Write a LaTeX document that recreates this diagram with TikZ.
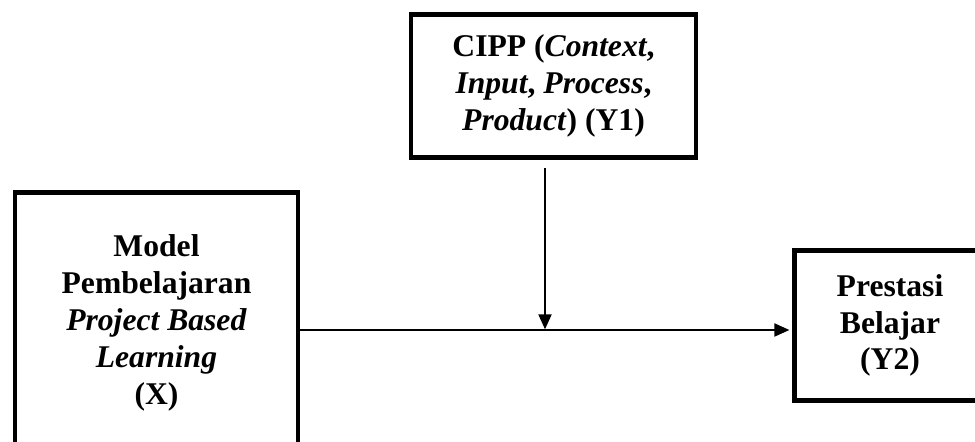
\documentclass[tikz,border=0pt]{standalone}
\usepackage{fontspec}
\setmainfont{Liberation Serif}
\usetikzlibrary{arrows.meta}

\begin{document}
\begin{tikzpicture}[
        boxnode/.style={rectangle, draw=black, line width=2.8pt, align=center, font=\fontsize{18}{21}\selectfont\bfseries},
        arrow/.style = {line width=0.75pt, -{Triangle[length=8.5pt,width=7.5pt]}},
        x=0.02cm,y=-0.02cm,
    ]
    \useasboundingbox (0,0) rectangle (975,442);
    \clip (0,0) rectangle (975,442);
    \node[boxnode, minimum width=5.7cm, minimum height=2.86cm] (1) at (553.5,86) {CIPP (\textit{Context},\\\textit{Input}, \textit{Process},\\\textit{Product}) (Y1)};
    \node[boxnode, minimum width=5.66cm, anchor=north, inner ysep=0.84cm, text depth=1.2cm] (0) at (156.5,190.5) {Model\\Pembelajaran\\\textit{Project Based}\\\textit{Learning}\\(X)};
    \node[boxnode, minimum width=3.83cm, minimum height=3cm] (2) at (890,325.5) {Prestasi\\Belajar\\(Y2)};
    \coordinate (3) at (545,168);
    \coordinate (4) at (545,330);
    \draw [arrow, shorten >=1.4pt] (0.east |- 4) -- (2.west |- 4);
    \draw [arrow, shorten >=0.4pt] (3) -- (4);
\end{tikzpicture}
\end{document}
